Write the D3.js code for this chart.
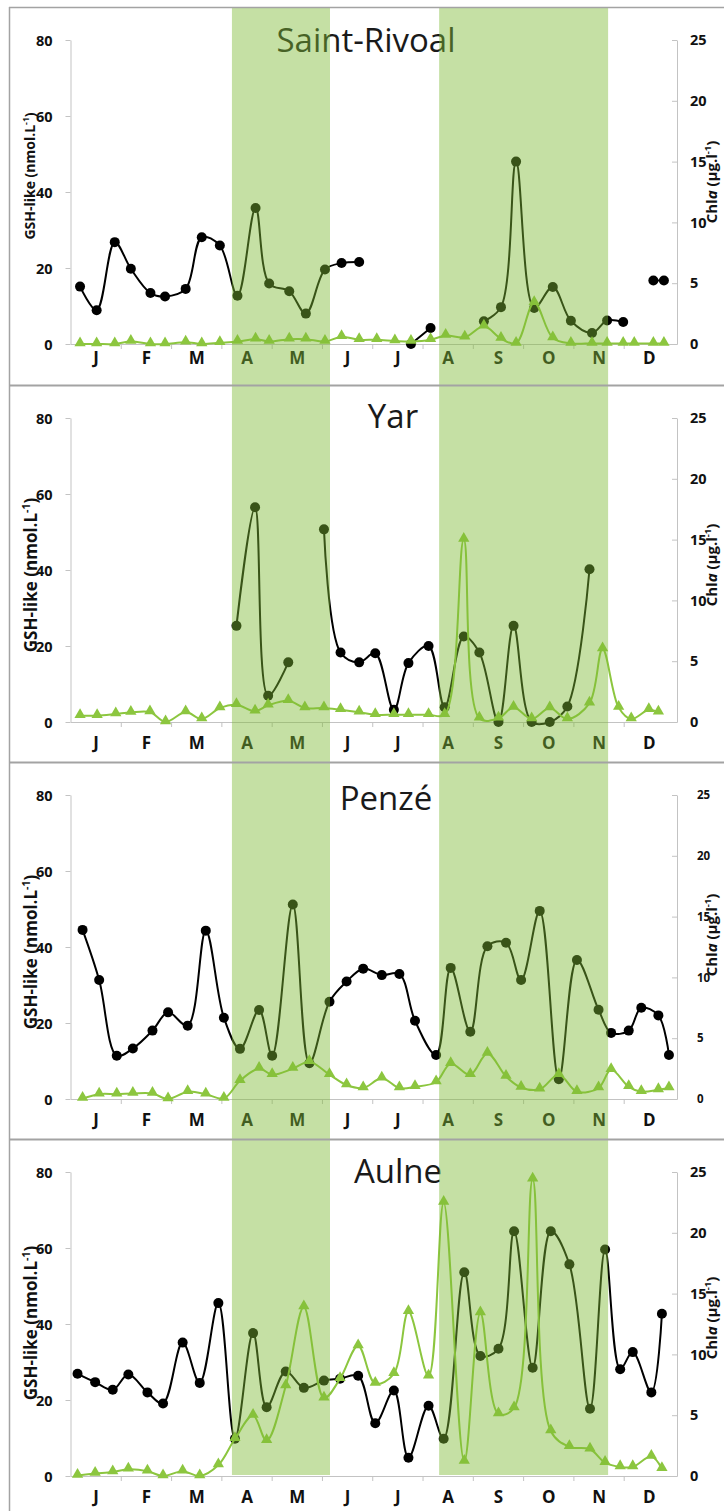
<!DOCTYPE html>
<html><head><meta charset="utf-8">
<script src="https://cdn.jsdelivr.net/npm/d3@7"></script>
<style>
body{margin:0;background:#fff;}
svg{display:block;font-family:"Open Sans",sans-serif;}
</style></head><body>
<svg id="chart" width="724" height="1511"></svg>
<script>
// ---- data ----
const months = ["J","F","M","A","M","J","J","A","S","O","N","D"];
const gshTicks = [0,20,40,60,80];
const chlTicks = [0,5,10,15,20,25];
const siteNames = ["Saint-Rivoal","Yar","Penzé","Aulne"];
// shaded periods (in months since 1 Jan)
const bandStart = [3.21, 7.33];
const bandEnd = [5.16, 10.69];

// sampling dates in months since 1 Jan
const srDates = [0.19,0.52,0.88,1.20,1.59,1.88,2.29,2.61,2.97,3.32,3.68,3.95,4.35,4.68,5.06,5.39,5.74,6.09,6.45,6.77,7.16,7.46,7.84,8.22,8.56,8.86,9.22,9.59,9.95,10.37,10.67,10.99,11.21,11.59,11.80];
const srGSH = [15.1,8.9,26.8,19.8,13.4,12.5,14.5,28.1,25.9,12.7,35.8,15.9,13.9,8.0,19.6,21.3,21.6,null,null,0,4.2,null,null,6.0,9.7,48.0,9.5,15.0,6.1,2.9,6.2,5.8,null,16.7,16.7];
const srChl = [0,0,0,0.2,0,0,0.15,0,0.1,0.2,0.4,0.2,0.4,0.4,0.2,0.6,0.35,0.35,0.25,0.2,0.35,0.7,0.55,1.45,0.45,0.05,3.4,0.5,0.05,0.05,0.05,0.05,0.05,0.05,0.05];

const yarDates = [0.19,0.53,0.90,1.20,1.58,1.89,2.29,2.61,2.97,3.30,3.67,3.93,4.33,4.66,5.04,5.37,5.74,6.06,6.43,6.72,7.12,7.44,7.82,8.13,8.51,8.81,9.17,9.53,9.88,10.32,10.58,10.90,11.15,11.50,11.69];
const yarGSH = [null,null,null,null,null,null,null,null,null,25.3,56.5,6.9,15.7,null,50.7,18.3,15.7,18.1,3.2,15.5,20.0,3.9,22.5,18.3,0,25.3,0,0,4.1,40.2,null,null,null,null,null];
const yarChl = [0.52,0.52,0.66,0.79,0.82,0,0.82,0.25,1.15,1.42,0.88,1.37,1.75,1.15,1.15,1.0,0.8,0.6,0.6,0.6,0.6,0.6,15.0,0.3,0.3,1.2,0.25,1.15,0.25,1.55,6.0,1.2,0.25,1.0,0.8];

const penDates = [0.24,0.57,0.92,1.24,1.63,1.94,2.33,2.69,3.05,3.37,3.75,4.01,4.42,4.75,5.15,5.49,5.82,6.19,6.54,6.85,7.27,7.56,7.95,8.29,8.66,8.96,9.33,9.71,10.07,10.50,10.75,11.10,11.35,11.69,11.90];
const penGSH = [44.5,31.3,11.4,13.3,18.0,22.8,19.3,44.3,21.4,13.2,23.4,11.4,51.2,9.4,25.6,30.9,34.3,32.6,32.9,20.6,11.6,34.5,17.7,40.2,41.1,31.3,49.5,5.2,36.6,23.5,17.4,18.0,24.0,22.0,11.6];
const penChl = [0.05,0.4,0.4,0.45,0.45,0,0.6,0.4,0.05,1.5,2.5,2.0,2.5,3.07,2.0,1.15,0.9,1.7,0.9,1.0,1.4,2.9,2.0,3.75,1.85,0.95,0.8,2.0,0.6,0.9,2.4,1.0,0.6,0.75,0.9];

const aulDates = [0.14,0.49,0.84,1.15,1.53,1.84,2.23,2.57,2.94,3.27,3.63,3.90,4.28,4.64,5.04,5.36,5.72,6.06,6.43,6.72,7.12,7.42,7.83,8.15,8.51,8.82,9.19,9.55,9.92,10.33,10.63,10.93,11.18,11.55,11.76];
const aulGSH = [26.9,24.7,22.7,26.7,22.0,19.1,35.1,24.5,45.5,9.8,37.6,18.1,27.5,23.2,25.1,25.6,26.4,13.9,22.5,4.8,18.5,9.8,53.6,31.6,33.5,64.4,28.5,64.4,55.7,17.7,59.6,28.1,32.6,22.0,42.7];
const aulChl = [0.05,0.2,0.33,0.55,0.4,0,0.4,0,0.9,3.06,4.97,2.9,7.4,13.9,6.4,8.0,10.7,7.6,8.4,13.5,8.2,22.5,1.2,13.4,5.1,5.6,24.4,3.7,2.4,2.2,1.1,0.75,0.75,1.6,0.6];

// ---- layout ----
const panelTops = [7,385,762,1139];
const layout = [
  {titleX:366,titleDy:45,yTitleDy:169,yTitleSize:14,yTitleX:35,chlTitleDy:175,monthPad:8,rSize:14.5,rX:13},
  {titleX:393,titleDy:43,yTitleDy:190,yTitleSize:17,yTitleX:37,chlTitleDy:180,monthPad:15,rSize:14.5,rX:13},
  {titleX:386,titleDy:48,yTitleDy:190,yTitleSize:17,yTitleX:37,chlTitleDy:173,monthPad:15,rSize:11.5,rX:20},
  {titleX:398,titleDy:44,yTitleDy:184,yTitleSize:17,yTitleX:37,chlTitleDy:179,monthPad:15,rSize:14.5,rX:13}
];
const series = [
  {dates:srDates,gsh:srGSH,chl:srChl},
  {dates:yarDates,gsh:yarGSH,chl:yarChl},
  {dates:penDates,gsh:penGSH,chl:penChl},
  {dates:aulDates,gsh:aulGSH,chl:aulChl}
];

const svg = d3.select("#chart");
const x = d3.scaleLinear().domain([0,12.06]).range([70.5,677]);
const axisCol = "#c3c3c3", txtCol = "#111";
const greenCol = "#8cc63f";

series.forEach((s,i)=>{
  const top = panelTops[i], L = layout[i];
  const y0 = top+337, y1 = top+33;
  const yG = d3.scaleLinear().domain([0,80]).range([y0,y1]);
  const yC = d3.scaleLinear().domain([0,25]).range([y0,y1]);
  const g = svg.append("g");

  // title
  g.append("text").attr("x",L.titleX).attr("y",top+L.titleDy).attr("text-anchor","middle")
    .attr("font-size",33).attr("fill","#1a1a1a").text(siteNames[i]);

  // left axis
  const la = g.append("g").attr("transform",`translate(${x(0)},0)`)
    .call(d3.axisLeft(yG).tickValues(gshTicks).tickSizeInner(5).tickSizeOuter(0).tickPadding(13));
  // right axis
  const ra = g.append("g").attr("transform",`translate(${x.range()[1]},0)`)
    .call(d3.axisRight(yC).tickValues(chlTicks).tickSizeInner(-5).tickSizeOuter(0).tickPadding(L.rX));
  ra.selectAll("text").attr("font-size",L.rSize);
  la.selectAll("text").attr("font-size",14.5);
  // x axis ticks
  const xa = g.append("g").attr("transform",`translate(0,${y0})`)
    .call(d3.axisBottom(x).tickValues(d3.range(1,12)).tickSizeInner(5).tickSizeOuter(0).tickFormat(""));
  // month labels
  const ma = g.append("g").attr("transform",`translate(0,${y0})`)
    .call(d3.axisBottom(x).tickValues(months.map((d,k)=>k+0.5)).tickSize(0).tickPadding(L.monthPad).tickFormat((d,k)=>months[k]));
  ma.select(".domain").remove();
  ma.selectAll("text").attr("font-size",17);
  [la,ra,xa,ma].forEach(a=>{
    a.selectAll(".domain,line").attr("stroke",axisCol);
    a.selectAll("text").attr("fill",txtCol).attr("font-weight","bold").attr("font-family","Open Sans, sans-serif");
  });
  la.selectAll("text").attr("dy","0.35em");

  // axis titles
  const yt = g.append("text").attr("transform",`translate(${L.yTitleX},${top+L.yTitleDy}) rotate(-90)`)
    .attr("text-anchor","middle").attr("font-size",L.yTitleSize).attr("font-weight","bold").attr("fill",txtCol);
  yt.append("tspan").text("GSH-like (nmol.L");
  yt.append("tspan").attr("dy",-L.yTitleSize*0.4).attr("font-size",L.yTitleSize*0.62).text("-1");
  yt.append("tspan").attr("dy",L.yTitleSize*0.4).text(")");

  const ct = g.append("text").attr("transform",`translate(717,${top+L.chlTitleDy}) rotate(-90)`)
    .attr("text-anchor","middle").attr("font-size",15).attr("font-weight","bold").attr("fill",txtCol);
  ct.append("tspan").text("Chl");
  ct.append("tspan").attr("font-style","italic").text("a");
  ct.append("tspan").text(" (µg.l");
  ct.append("tspan").attr("dy",-6).attr("font-size",9.5).text("-1");
  ct.append("tspan").attr("dy",6).text(")");

  // data
  const gshPts = s.dates.map((d,k)=>[d,s.gsh[k]]);
  const chlPts = s.dates.map((d,k)=>[d,s.chl[k]]);
  const curve = d3.curveCatmullRom.alpha(0.5);
  const lineG = d3.line().defined(d=>d[1]!=null).x(d=>x(d[0])).y(d=>yG(d[1])).curve(curve);
  const lineC = d3.line().defined(d=>d[1]!=null).x(d=>x(d[0])).y(d=>yC(d[1])).curve(curve);

  g.append("path").attr("d",lineG(gshPts)).attr("fill","none").attr("stroke","#000").attr("stroke-width",2);
  g.selectAll(".gp").data(gshPts.filter(d=>d[1]!=null)).join("circle")
    .attr("cx",d=>x(d[0])).attr("cy",d=>yG(d[1])).attr("r",5).attr("fill","#000");

  g.append("path").attr("d",lineC(chlPts)).attr("fill","none").attr("stroke",greenCol).attr("stroke-width",2);
  const tri = d3.symbol(d3.symbolTriangle,55);
  g.selectAll(".cp").data(chlPts).join("path")
    .attr("d",tri).attr("transform",d=>`translate(${x(d[0])},${yC(d[1])-1})`).attr("fill",greenCol);
});

// shaded periods (drawn over the data)
const bandBottom = panelTops[3]+336;
bandStart.forEach((b,k)=>{
  svg.append("rect").attr("x",x(b)).attr("y",8).attr("width",x(bandEnd[k])-x(b))
    .attr("height",bandBottom-8).attr("fill","rgb(127,186,53)").attr("fill-opacity",0.45);
});

// frame and separators
panelTops.forEach(t=>{
  svg.append("line").attr("x1",9).attr("x2",724).attr("y1",t+0.5).attr("y2",t+0.5)
    .attr("stroke","#a3a3a3").attr("stroke-width",t===7?1.5:2);
});
svg.append("line").attr("x1",9.5).attr("x2",9.5).attr("y1",7).attr("y2",1511)
  .attr("stroke","#a3a3a3").attr("stroke-width",1.5);
</script>
</body></html>
